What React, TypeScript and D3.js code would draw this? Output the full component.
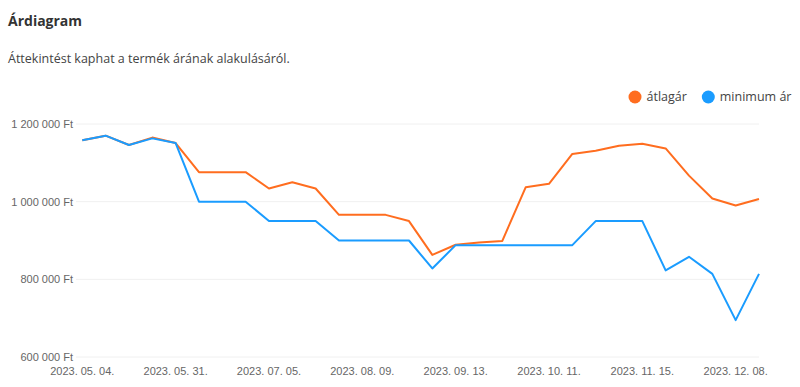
import React, { useEffect, useRef } from 'react';
import * as d3 from 'd3';

const dates = [
  '2023. 05. 04.', '2023. 05. 10.', '2023. 05. 17.', '2023. 05. 24.', '2023. 05. 31.',
  '2023. 06. 07.', '2023. 06. 14.', '2023. 06. 21.', '2023. 07. 05.', '2023. 07. 12.',
  '2023. 07. 19.', '2023. 07. 26.', '2023. 08. 09.', '2023. 08. 16.', '2023. 08. 23.',
  '2023. 08. 30.', '2023. 09. 13.', '2023. 09. 20.', '2023. 09. 27.', '2023. 10. 04.',
  '2023. 10. 11.', '2023. 10. 18.', '2023. 10. 25.', '2023. 11. 08.', '2023. 11. 15.',
  '2023. 11. 22.', '2023. 11. 29.', '2023. 12. 01.', '2023. 12. 08.', '2023. 12. 13.'
];

const avgPrice = [
  1158000, 1170000, 1146000, 1165000, 1151000, 1076000, 1076000, 1076000, 1034000, 1050000,
  1034000, 966000, 966000, 966000, 950000, 863000, 889000, 895000, 899000, 1037000,
  1046000, 1123000, 1131000, 1144000, 1149000, 1137000, 1067000, 1008000, 990000, 1007000
];

const minPrice = [
  1158000, 1170000, 1146000, 1163000, 1151000, 1000000, 1000000, 1000000, 950000, 950000,
  950000, 900000, 900000, 900000, 900000, 828000, 888000, 888000, 888000, 888000,
  888000, 888000, 950000, 950000, 950000, 823000, 858000, 814000, 695000, 814000
];

const yTicks = [600000, 800000, 1000000, 1200000];

const seriesNames = ['átlagár', 'minimum ár'];
const seriesColors = ['#ff6d1f', '#1a9cff'];

const App = () => {
  const ref = useRef(null);

  useEffect(() => {
    if (ref.current) drawChart(ref.current);
  }, []);

  return <svg ref={ref} width={800} height={387} style={{ position: 'absolute', left: 0, top: 0, background: '#fff' }} />;
};

function drawChart(node) {
  const svg = d3.select(node);
  svg.selectAll('*').remove();

  const font = "'Open Sans', sans-serif";
  const axisFont = "'Liberation Sans', Arial, sans-serif";

  svg.append('text')
    .attr('x', 8)
    .attr('y', 26)
    .style('font-family', font)
    .style('font-weight', 'bold')
    .style('font-size', '14px')
    .style('fill', '#333')
    .text('Árdiagram');

  svg.append('text')
    .attr('x', 8)
    .attr('y', 63)
    .style('font-family', font)
    .style('font-size', '12.5px')
    .style('fill', '#444')
    .text('Áttekintést kaphat a termék árának alakulásáról.');

  const x = d3.scalePoint().domain(dates).range([82.3, 759]);
  const y = d3.scaleLinear().domain([600000, 1200000]).range([357, 124]);

  const locale = d3.formatLocale({ decimal: ',', thousands: ' ', grouping: [3], currency: ['', ' Ft'] });
  const fmt = locale.format(',');

  // grid + y labels
  const grid = svg.append('g');
  yTicks.forEach(t => {
    grid.append('line')
      .attr('x1', 76).attr('x2', 759)
      .attr('y1', y(t)).attr('y2', y(t))
      .attr('stroke', '#f0f0f0')
      .attr('stroke-width', 1);
    grid.append('text')
      .attr('x', 73)
      .attr('y', y(t))
      .attr('dy', '0.35em')
      .attr('text-anchor', 'end')
      .style('font-family', axisFont)
      .style('font-size', '11px')
      .style('fill', '#666')
      .text(fmt(t) + ' Ft');
  });

  // x labels, every 4th date
  dates.forEach((d, i) => {
    if (i % 4 !== 0) return;
    svg.append('text')
      .attr('x', x(d))
      .attr('y', 371)
      .attr('dy', '0.35em')
      .attr('text-anchor', 'middle')
      .style('font-family', axisFont)
      .style('font-size', '11px')
      .style('fill', '#666')
      .text(d);
  });

  const line = d3.line().x((d, i) => x(dates[i])).y(d => y(d));

  [avgPrice, minPrice].forEach((s, k) => {
    svg.append('path')
      .datum(s)
      .attr('d', line)
      .attr('fill', 'none')
      .attr('stroke', seriesColors[k])
      .attr('stroke-width', 2)
      .attr('stroke-linejoin', 'round');
  });

  // legend
  const legendX = [635, 708.3];
  seriesNames.forEach((name, k) => {
    svg.append('circle')
      .attr('cx', legendX[k])
      .attr('cy', 97)
      .attr('r', 6.5)
      .attr('fill', seriesColors[k]);
    svg.append('text')
      .attr('x', legendX[k] + 11.5)
      .attr('y', 97)
      .attr('dy', '0.35em')
      .style('font-family', font)
      .style('font-size', '12.5px')
      .style('fill', '#444')
      .text(name);
  });
}

export default App;
